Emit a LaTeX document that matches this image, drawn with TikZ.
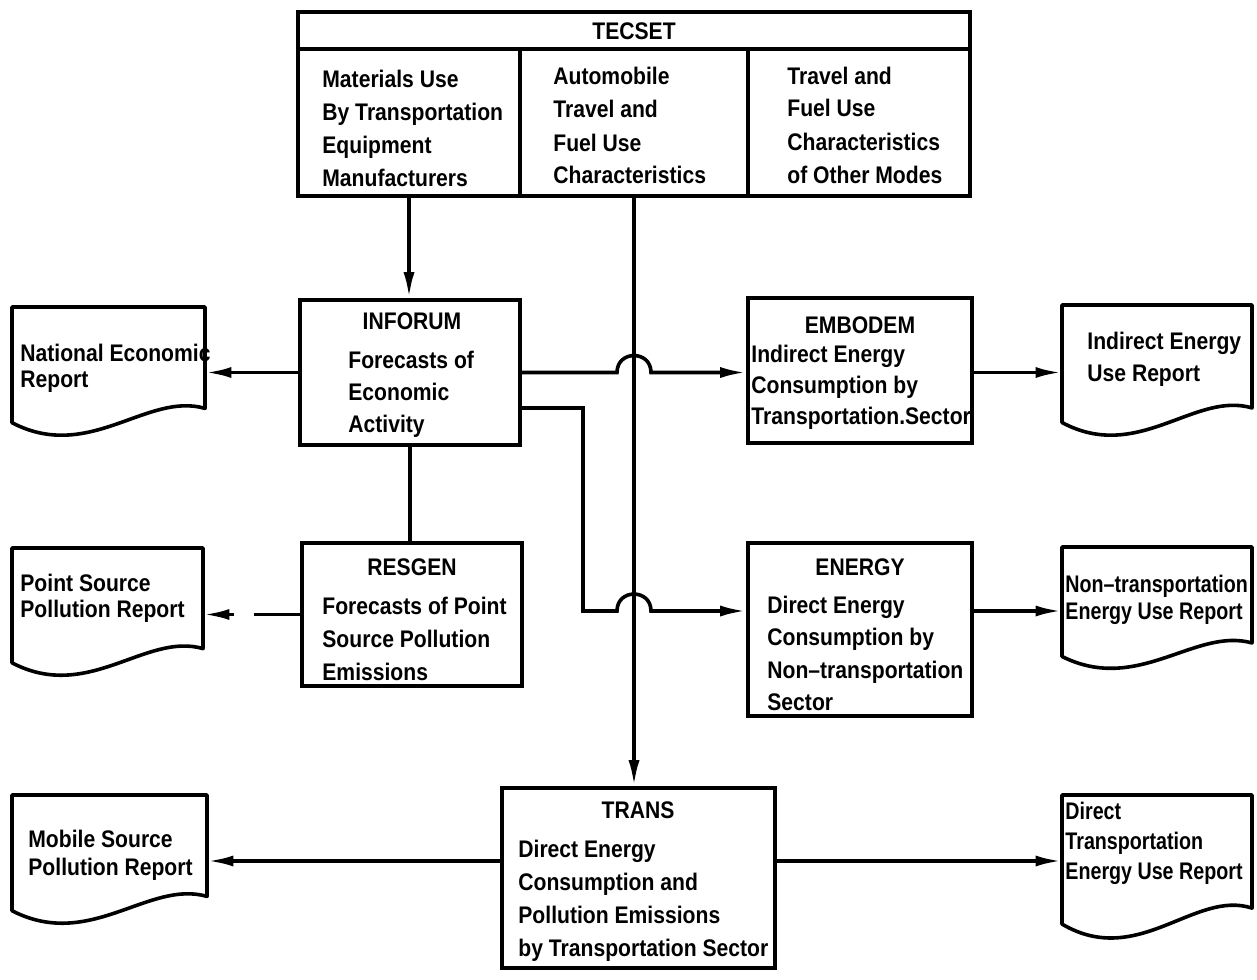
\documentclass[tikz,border=0pt]{standalone}
\usepackage{fontspec}
\newfontfamily\diafont[FakeStretch=0.88]{Liberation Sans}
\newfontfamily\diafontn[FakeStretch=0.82]{Liberation Sans}
\usetikzlibrary{arrows.meta,calc}
\newcommand\fst{\rule{0pt}{10pt}}
\tikzset{
  lw/.style={line width=1.8pt},
  boxnode/.style={draw, line width=1.8pt, inner sep=0pt, rectangle},
  docnode/.style={inner sep=0pt, rectangle},
  txt/.style={anchor=north west, inner sep=0pt, align=left, font=\diafont\bfseries\fontsize{12pt}{#1}\selectfont},
  txt/.default=16.5pt,
  txtn/.style={anchor=north west, inner sep=0pt, align=left, font=\diafontn\bfseries\fontsize{12pt}{#1}\selectfont},
  hdr/.style={inner sep=0pt, font=\diafont\bfseries\fontsize{12pt}{14pt}\selectfont},
  arr/.style={line width=1.8pt, -{Latex[length=13pt,width=5.5pt]}},
}
\newcommand\boxat[5]{\node[boxnode, minimum width={(#4-#2)*0.5pt}, minimum height={(#5-#3)*0.5pt}] (#1) at ({(#2+#4)/2},{(#3+#5)/2}) {};}
\newcommand\docat[5]{%
  \node[docnode, minimum width={(#4-#2)*0.5pt}, minimum height={(#5-#3)*0.5pt}] (#1) at ({(#2+#4)/2},{(#3+#5)/2}) {};
  \draw[lw, line join=round] (#2,#3) -- (#4,#3) -- (#4,{#3+0.78*(#5-#3)})
    .. controls ({#2+0.7*(#4-#2)},{#3+0.65*(#5-#3)}) and ({#2+0.4*(#4-#2)},{#3+1.2*(#5-#3)}) ..
    (#2,{#3+0.89*(#5-#3)}) -- cycle;
}
\begin{document}
\begin{tikzpicture}[x=0.5pt,y=-0.5pt]
\fill[white] (0,0) rectangle (1257,979);
\useasboundingbox (0,0) rectangle (1257,979);

% TECSET
\boxat{tecH}{298}{12}{970}{49}
\boxat{tecA}{298}{49}{520}{196}
\boxat{tecB}{520}{49}{748}{196}
\boxat{tecC}{748}{49}{970}{196}
\node[hdr] (tecT) at (634,31) {TECSET};
\node[txt] (tAt) at (322,66.6) {\fst Materials Use\\By Transportation\\Equipment\\Manufacturers};
\node[txt] (tBt) at (553,64.6) {\fst Automobile\\Travel and\\Fuel Use\\Characteristics};
\node[txt] (tCt) at (787,63.6) {\fst Travel and\\Fuel Use\\Characteristics\\of Other Modes};

% INFORUM
\boxat{inforum}{300}{300}{520}{445}
\node[hdr] (infT) at (412,321) {INFORUM};
\node[txt=16pt] (inft) at (348,347.6) {\fst Forecasts of\\Economic\\Activity};

% EMBODEM
\boxat{embodem}{748}{298}{972}{443}
\node[hdr] (embT) at (860,325) {EMBODEM};
\node[txt=15.5pt] (embt) at (751,341.6) {\fst Indirect Energy\\Consumption by\\Transportation.Sector};

% RESGEN
\boxat{resgen}{302}{543}{522}{686}
\node[hdr] (resT) at (412,567) {RESGEN};
\node[txt=16.5pt] (rest) at (322,593.6) {\fst Forecasts of Point\\Source Pollution\\Emissions};

% ENERGY
\boxat{energy}{748}{543}{972}{716}
\node[hdr] (eneT) at (860,567) {ENERGY};
\node[txt=16.3pt] (enet) at (767,592.6) {\fst Direct Energy\\Consumption by\\Non–transportation\\Sector};

% TRANS
\boxat{trans}{502}{788}{775}{968}
\node[hdr] (traT) at (638,810) {TRANS};
\node[txt=16.5pt] (trat) at (518,836.6) {\fst Direct Energy\\Consumption and\\Pollution Emissions\\by Transportation Sector};

% Documents
\docat{ner}{12}{307}{205}{437}
\node[txt=13pt] (nert) at (20,340.6) {\fst National Economic\\Report};
\docat{ieur}{1062}{305}{1252}{437}
\node[txt=16pt] (ieurt) at (1087,328.6) {\fst Indirect Energy\\Use Report};
\docat{psr}{12}{548}{203}{677}
\node[txt=13pt] (psrt) at (20,570.6) {\fst Point Source\\Pollution Report};
\docat{ntr}{1062}{547}{1252}{670}
\node[txtn=13.5pt] (ntrt) at (1065,571.6) {\fst Non–transportation\\Energy Use Report};
\docat{mspr}{12}{795}{207}{925}
\node[txt=14pt] (msprt) at (28,826.6) {\fst Mobile Source\\Pollution Report};
\docat{dter}{1062}{795}{1252}{940}
\node[txtn=15pt] (dtert) at (1065,798.6) {\fst Direct\\Transportation\\Energy Use Report};

% helper coordinates
\coordinate (j1) at (583,408);
\coordinate (j2) at (583,611);
\coordinate (tY) at (0,861);
\coordinate (hop1) at (tecB.south |- inforum.east);
\coordinate (hop2) at (tecB.south |- j2);
\coordinate (dgap) at ([xshift=-33pt]resgen.west);

% connectors
\draw[arr] (tecA.south) -- (tecA.south |- inforum.north);
\draw[arr] (tecB.south) -- (tecB.south |- trans.north);
\draw[arr] (inforum.west) -- (inforum.west -| ner.east);
\draw[arr] (inforum.east) -- ([xshift=-8.5pt]hop1)
   .. controls ([xshift=-8.5pt,yshift=11.3pt]hop1) and ([xshift=8.5pt,yshift=11.3pt]hop1) ..
   ([xshift=8.5pt]hop1) -- (inforum.east -| embodem.west);
\draw[arr] (inforum.east |- j1) -- (j1) -- (j2) -- ([xshift=-8.5pt]hop2)
   .. controls ([xshift=-8.5pt,yshift=11.3pt]hop2) and ([xshift=8.5pt,yshift=11.3pt]hop2) ..
   ([xshift=8.5pt]hop2) -- (j2 -| energy.west);
\draw[arr] (embodem.east |- inforum.east) -- (inforum.east -| ieur.west);
\draw[lw] (inforum.south) -- (inforum.south |- resgen.north);
% dashed connector RESGEN -> Point Source report
\draw[lw] (resgen.west) -- ([xshift=-23pt]resgen.west);
\draw[arr] (dgap) -- (dgap -| psr.east);
\draw[arr] (energy.east |- j2) -- (j2 -| ntr.west);
\draw[arr] (trans.west |- tY) -- (tY -| mspr.east);
\draw[arr] (trans.east |- tY) -- (tY -| dter.west);
\end{tikzpicture}
\end{document}
